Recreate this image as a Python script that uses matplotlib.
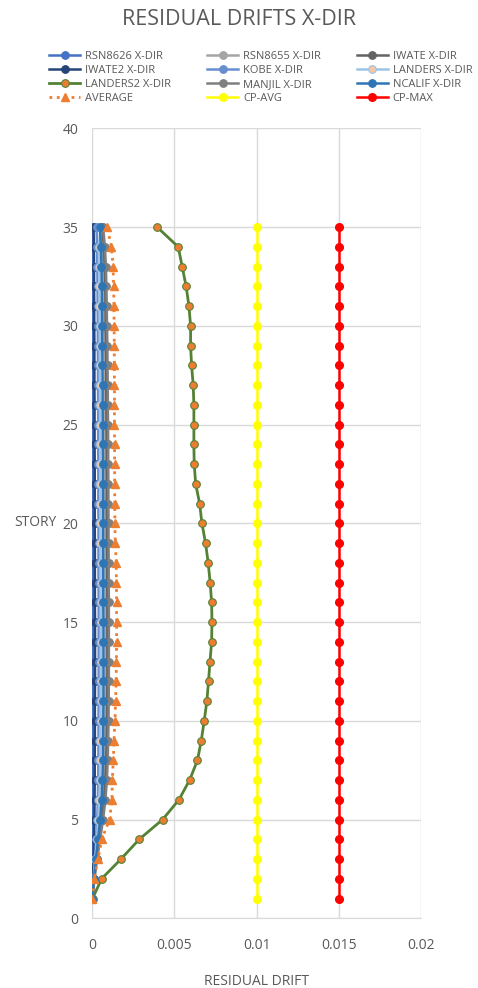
import matplotlib.pyplot as plt

plt.rcParams['font.family'] = ['Open Sans', 'DejaVu Sans']

stories = list(range(1, 36))

rsn8626 = [0.00000, 0.00002, 0.00003, 0.00003, 0.00004, 0.00004, 0.00004, 0.00005, 0.00005,
           0.00005, 0.00005, 0.00005, 0.00005, 0.00005, 0.00005, 0.00005, 0.00005, 0.00005,
           0.00005, 0.00005, 0.00004, 0.00004, 0.00004, 0.00004, 0.00004, 0.00004, 0.00004,
           0.00004, 0.00004, 0.00003, 0.00003, 0.00003, 0.00003, 0.00002, 0.00001]
rsn8655 = [0.00001, 0.00011, 0.00024, 0.00040, 0.00054, 0.00065, 0.00072, 0.00076, 0.00078,
           0.00080, 0.00081, 0.00081, 0.00082, 0.00082, 0.00082, 0.00081, 0.00081, 0.00081,
           0.00080, 0.00080, 0.00079, 0.00079, 0.00078, 0.00078, 0.00077, 0.00076, 0.00076,
           0.00075, 0.00074, 0.00073, 0.00071, 0.00070, 0.00068, 0.00064, 0.00056]
iwate = [0.00001, 0.00012, 0.00027, 0.00044, 0.00060, 0.00072, 0.00080, 0.00085, 0.00088,
         0.00090, 0.00091, 0.00092, 0.00092, 0.00092, 0.00092, 0.00092, 0.00091, 0.00091,
         0.00090, 0.00090, 0.00089, 0.00089, 0.00088, 0.00088, 0.00087, 0.00086, 0.00085,
         0.00085, 0.00084, 0.00082, 0.00081, 0.00079, 0.00076, 0.00071, 0.00062]
iwate2 = [0.00001, 0.00005, 0.00008, 0.00011, 0.00013, 0.00014, 0.00015, 0.00015, 0.00016,
          0.00016, 0.00016, 0.00017, 0.00017, 0.00017, 0.00017, 0.00016, 0.00016, 0.00016,
          0.00016, 0.00015, 0.00015, 0.00015, 0.00015, 0.00014, 0.00014, 0.00014, 0.00013,
          0.00013, 0.00013, 0.00012, 0.00012, 0.00011, 0.00011, 0.00010, 0.00008]
kobe = [0.00001, 0.00008, 0.00016, 0.00024, 0.00030, 0.00034, 0.00036, 0.00037, 0.00038,
        0.00038, 0.00039, 0.00039, 0.00039, 0.00039, 0.00039, 0.00039, 0.00038, 0.00038,
        0.00038, 0.00038, 0.00037, 0.00037, 0.00037, 0.00036, 0.00036, 0.00036, 0.00035,
        0.00035, 0.00034, 0.00034, 0.00033, 0.00032, 0.00031, 0.00029, 0.00026]
landers = [0.00001, 0.00009, 0.00019, 0.00029, 0.00037, 0.00043, 0.00047, 0.00049, 0.00050,
           0.00051, 0.00051, 0.00052, 0.00052, 0.00052, 0.00052, 0.00051, 0.00051, 0.00051,
           0.00050, 0.00050, 0.00050, 0.00049, 0.00049, 0.00048, 0.00048, 0.00047, 0.00047,
           0.00046, 0.00046, 0.00045, 0.00044, 0.00043, 0.00042, 0.00040, 0.00050]
landers2 = [0.00002, 0.00057, 0.00175, 0.00286, 0.00428, 0.00527, 0.00592, 0.00640, 0.00663,
            0.00681, 0.00697, 0.00707, 0.00716, 0.00726, 0.00728, 0.00726, 0.00717, 0.00705,
            0.00689, 0.00667, 0.00653, 0.00629, 0.00620, 0.00618, 0.00618, 0.00618, 0.00614,
            0.00604, 0.00598, 0.00598, 0.00588, 0.00571, 0.00547, 0.00523, 0.00395]
manjil = [0.00001, 0.00013, 0.00029, 0.00048, 0.00066, 0.00080, 0.00089, 0.00094, 0.00097,
          0.00099, 0.00100, 0.00101, 0.00101, 0.00101, 0.00101, 0.00101, 0.00100, 0.00100,
          0.00099, 0.00099, 0.00098, 0.00098, 0.00097, 0.00097, 0.00096, 0.00095, 0.00094,
          0.00093, 0.00092, 0.00090, 0.00088, 0.00086, 0.00083, 0.00077, 0.00066]
ncalif = [0.00001, 0.00010, 0.00022, 0.00036, 0.00048, 0.00057, 0.00062, 0.00065, 0.00066,
          0.00067, 0.00068, 0.00068, 0.00068, 0.00068, 0.00068, 0.00067, 0.00067, 0.00067,
          0.00066, 0.00066, 0.00066, 0.00065, 0.00065, 0.00064, 0.00064, 0.00063, 0.00063,
          0.00062, 0.00061, 0.00060, 0.00059, 0.00058, 0.00056, 0.00053, 0.00046]
average = [0.00000, 0.00012, 0.00035, 0.00058, 0.00105, 0.00120, 0.00122, 0.00128, 0.00132,
           0.00138, 0.00142, 0.00145, 0.00147, 0.00148, 0.00148, 0.00148, 0.00147, 0.00146,
           0.00140, 0.00138, 0.00137, 0.00136, 0.00136, 0.00136, 0.00135, 0.00135, 0.00135,
           0.00134, 0.00134, 0.00133, 0.00132, 0.00130, 0.00127, 0.00117, 0.00090]
cp_avg = [0.01] * 35
cp_max = [0.015] * 35

# (label, values, line colour, marker face colour)
records = [
    ('RSN8626 X-DIR', rsn8626, '#4472C4', '#4472C4'),
    ('RSN8655 X-DIR', rsn8655, '#A5A5A5', '#A5A5A5'),
    ('IWATE X-DIR', iwate, '#636363', '#636363'),
    ('IWATE2 X-DIR', iwate2, '#264478', '#264478'),
    ('KOBE X-DIR', kobe, '#698ED0', '#698ED0'),
    ('LANDERS X-DIR', landers, '#9DC3E6', '#F4C7A8'),
    ('LANDERS2 X-DIR', landers2, '#548235', '#ED7D31'),
    ('MANJIL X-DIR', manjil, '#7F7F7F', '#7F7F7F'),
    ('NCALIF X-DIR', ncalif, '#2E75B6', '#2E75B6'),
]

fig = plt.figure(figsize=(4.78, 9.88), dpi=100)
ax = fig.add_axes([0.193, 0.0706, 0.688, 0.7994])

handles = {}
for label, vals, col, face in records:
    lw = 2.0 if label.startswith('LANDERS2') else 1.8
    h, = ax.plot(vals, stories, color=col, lw=lw, marker='o', ms=5.5,
                 mfc=face, mec=col, mew=0.8, label=label)
    handles[label] = h

h, = ax.plot(average, stories, color='#ED7D31', lw=2, ls=':', marker='^',
             ms=6, mfc='#ED7D31', mec='#ED7D31', label='AVERAGE')
handles['AVERAGE'] = h
h, = ax.plot(cp_avg, stories, color='#FFFF00', lw=1.8, marker='o', ms=5.5,
             mfc='#FFFF00', mec='#FFFF00', label='CP-AVG')
handles['CP-AVG'] = h
h, = ax.plot(cp_max, stories, color='#FF0000', lw=1.8, marker='o', ms=5.5,
             mfc='#FF0000', mec='#FF0000', label='CP-MAX')
handles['CP-MAX'] = h

ax.set_xlim(0, 0.02)
ax.set_ylim(0, 40)
ax.set_xticks([0, 0.005, 0.01, 0.015, 0.02])
ax.set_xticklabels(['0', '0.005', '0.01', '0.015', '0.02'])
ax.set_yticks(range(0, 41, 5))
ax.grid(True, color='#D9D9D9', lw=1)
ax.set_axisbelow(True)
for s in ['top', 'right', 'left']:
    ax.spines[s].set_visible(False)
ax.spines['bottom'].set_color('#D9D9D9')
ax.tick_params(length=0, colors='#595959', labelsize=10, pad=14)
ax.tick_params(axis='y', pad=10)

fig.text(0.537, 0.007, 'RESIDUAL DRIFT', color='#595959', fontsize=10,
         ha='center', va='center')
fig.text(0.074, 0.471, 'STORY', color='#595959', fontsize=10,
         ha='center', va='center')
fig.text(0.5, 0.98, 'RESIDUAL DRIFTS X-DIR', color='#595959', fontsize=15.5,
         ha='center', va='center')

# legend rows read left to right, so order the handles column by column
order = ['RSN8626 X-DIR', 'IWATE2 X-DIR', 'LANDERS2 X-DIR', 'AVERAGE',
         'RSN8655 X-DIR', 'KOBE X-DIR', 'MANJIL X-DIR', 'CP-AVG',
         'IWATE X-DIR', 'LANDERS X-DIR', 'NCALIF X-DIR', 'CP-MAX']
leg = fig.legend([handles[k] for k in order], order, ncol=3, loc='upper left',
                 bbox_to_anchor=(0.094, 0.953), frameon=False, fontsize=8,
                 handlelength=2.8, handletextpad=0.45, columnspacing=3.2,
                 labelspacing=0.28, borderaxespad=0)
for t in leg.get_texts():
    t.set_color('#595959')

fig.savefig('out.png', dpi=100)
